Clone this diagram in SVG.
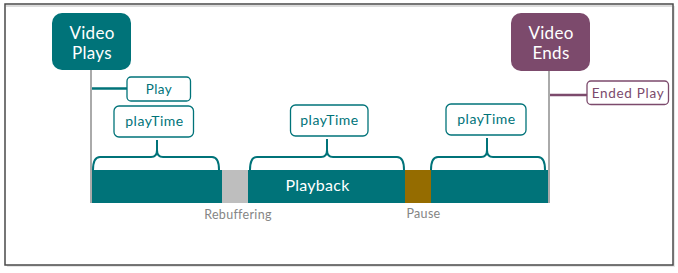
<svg xmlns="http://www.w3.org/2000/svg" width="678" height="273" viewBox="0 0 678 273">
<style>
.lbl{font-family:"Lato","Open Sans","Liberation Sans",sans-serif;text-anchor:middle}
.big{font-size:17px;fill:#fff;letter-spacing:0.3px}
.tbox{fill:#fff;stroke:#007379;stroke-width:1.3}
.ttxt{font-size:14px;fill:#007379;letter-spacing:0.5px}
.brace{fill:none;stroke:#007379;stroke-width:2}
.gray{stroke:#aaaaaa;stroke-width:2}
.cap{font-size:12.5px;fill:#858585;letter-spacing:0.3px}
</style>
<rect width="678" height="273" fill="#fff"/>
<rect x="7" y="6" width="668" height="261" fill="#e6e6e6"/>
<rect x="5" y="4" width="668" height="261" fill="#fff" stroke="#4a4a4a" stroke-width="1.5"/>
<line x1="6" y1="6" x2="672" y2="6" stroke="#dcdcdc" stroke-width="2"/>

<g id="connectors">
<line class="gray" x1="91" y1="70" x2="91" y2="203"/>
<line class="gray" x1="549" y1="71" x2="549" y2="203"/>
<line x1="92" y1="88.5" x2="127" y2="88.5" stroke="#007379" stroke-width="2.5"/>
<line x1="550" y1="95" x2="587" y2="95" stroke="#7c4a6c" stroke-width="2.5"/>
<path class="brace" d="M93,170 Q93,157 100,157 L151,157 Q157,157 157,150 L157,140 M157,150 Q157,157 163,157 L212,157 Q219,157 219,170"/>
<path class="brace" d="M250,170 Q250,157 257,157 L321,157 Q327,157 327,150 L327,139 M327,150 Q327,157 333,157 L397,157 Q404,157 404,170"/>
<path class="brace" d="M431,170 Q431,157 438,157 L481,157 Q487,157 487,150 L487,138 M487,150 Q487,157 493,157 L538,157 Q545,157 545,170"/>
</g>

<g id="video-plays">
<rect x="52" y="13" width="79" height="57" rx="10" fill="#007379"/>
<text class="lbl big" x="92" y="39">Video</text>
<text class="lbl big" x="92" y="59">Plays</text>
</g>
<g id="video-ends">
<rect x="511" y="13" width="79" height="58" rx="10" fill="#7c4a6c"/>
<text class="lbl big" x="551" y="39">Video</text>
<text class="lbl big" x="551" y="59">Ends</text>
</g>
<g id="play">
<rect class="tbox" x="127" y="77" width="63.5" height="24" rx="4"/>
<text class="lbl ttxt" x="159" y="93.5" style="font-size:13.5px;letter-spacing:0.4px">Play</text>
</g>
<g id="ended-play">
<rect x="587" y="81" width="81.5" height="23.5" rx="4" fill="#fff" stroke="#7c4a6c" stroke-width="1.3"/>
<text class="lbl" x="628" y="97.5" style="font-size:13.5px;letter-spacing:0.7px;fill:#7c4a6c">Ended Play</text>
</g>
<g id="playtime-1">
<rect class="tbox" x="114" y="106" width="79.5" height="31" rx="5"/>
<text class="lbl ttxt" x="154.5" y="126">playTime</text>
</g>
<g id="playtime-2">
<rect class="tbox" x="290.5" y="105" width="77.5" height="31" rx="5"/>
<text class="lbl ttxt" x="329.5" y="125">playTime</text>
</g>
<g id="playtime-3">
<rect class="tbox" x="446" y="104" width="80" height="31" rx="5"/>
<text class="lbl ttxt" x="486.5" y="124">playTime</text>
</g>
<g id="playback-bar">
<rect x="92" y="170" width="456" height="33" fill="#007379"/>
<rect x="222" y="170" width="26" height="33" fill="#bebebe"/>
<rect x="405" y="170" width="26" height="33" fill="#956c00"/>
<text class="lbl" x="317.5" y="191" style="font-size:16px;letter-spacing:0.25px;fill:#fff">Playback</text>
</g>
<g id="rebuffering">
<text class="lbl cap" x="238" y="219">Rebuffering</text>
</g>
<g id="pause">
<text class="lbl cap" x="423.5" y="218">Pause</text>
</g>
</svg>
